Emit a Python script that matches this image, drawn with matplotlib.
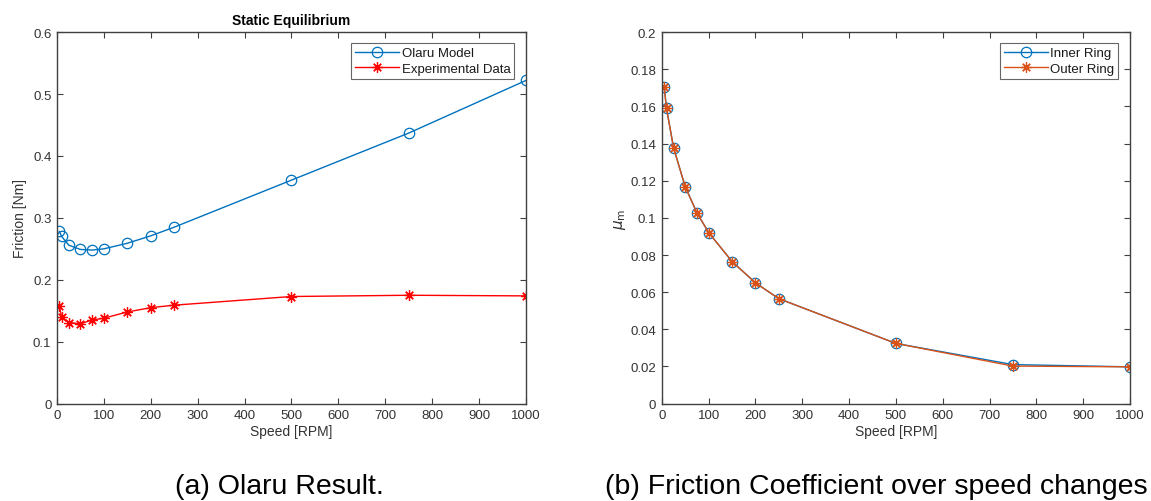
import matplotlib
matplotlib.use("Agg")
import matplotlib.pyplot as plt

plt.rcParams['font.family'] = ['Liberation Sans', 'DejaVu Sans']
plt.rcParams['mathtext.fontset'] = 'dejavusans'

speed = [5, 10, 25, 50, 75, 100, 150, 200, 250, 500, 750, 1000]
olaru_model = [0.278, 0.270, 0.256, 0.249, 0.248, 0.250, 0.259, 0.271, 0.285,
               0.361, 0.437, 0.522]
experimental = [0.157, 0.140, 0.131, 0.129, 0.135, 0.138, 0.148, 0.155, 0.159,
                0.173, 0.175, 0.174]

mu_inner = [0.1705, 0.159, 0.1378, 0.1167, 0.1027, 0.0921, 0.0765, 0.065,
            0.0565, 0.0324, 0.021, 0.0198]
mu_outer = [0.1705, 0.159, 0.1378, 0.1167, 0.1027, 0.0921, 0.0765, 0.065,
            0.0565, 0.0324, 0.0202, 0.0198]

x_ticks = [0, 100, 200, 300, 400, 500, 600, 700, 800, 900, 1000]
friction_ticks = [0, 0.1, 0.2, 0.3, 0.4, 0.5, 0.6]
friction_labels = ['0', '0.1', '0.2', '0.3', '0.4', '0.5', '0.6']
mu_ticks = [0, 0.02, 0.04, 0.06, 0.08, 0.1, 0.12, 0.14, 0.16, 0.18, 0.2]
mu_labels = ['0', '0.02', '0.04', '0.06', '0.08', '0.1', '0.12', '0.14',
             '0.16', '0.18', '0.2']

BLUE = '#0072BD'
ORANGE = '#D95319'
AX_COLOR = '#404040'
LABEL_COLOR = '#333333'
ASTERISK = (8, 2, 0)

fig = plt.figure(figsize=(11.51, 5.02), dpi=100)
ax1 = fig.add_axes([0.0495, 0.194, 0.4075, 0.740])
ax2 = fig.add_axes([0.575, 0.194, 0.4068, 0.740])


def style(ax):
    for s in ax.spines.values():
        s.set_color(AX_COLOR)
        s.set_linewidth(1.0)
    ax.tick_params(direction='in', top=True, right=True, length=4,
                   width=0.8, color=AX_COLOR, labelcolor=LABEL_COLOR,
                   labelsize=9.5, pad=4)
    ax.set_xlim(0, 1000)
    ax.set_xticks(x_ticks, [str(t) for t in x_ticks])


def legend(ax):
    leg = ax.legend(loc='upper right', fontsize=9.5, frameon=True,
                    fancybox=False, edgecolor=AX_COLOR, handlelength=3.3,
                    borderpad=0.3, labelspacing=0.25, handletextpad=0.2,
                    borderaxespad=0.0, bbox_to_anchor=(0.975, 0.97))
    leg.get_frame().set_linewidth(0.8)
    for t in leg.get_texts():
        t.set_color('#1a1a1a')


# Left panel: friction torque
ax1.plot(speed, olaru_model, '-o', color=BLUE, lw=1.0, ms=7.5,
         mfc='none', mew=0.9, label='Olaru Model')
ax1.plot(speed, experimental, '-', marker=ASTERISK, color='red', lw=1.0,
         ms=7.5, mew=0.9, label='Experimental Data')
style(ax1)
ax1.set_ylim(0, 0.6)
ax1.set_yticks(friction_ticks, friction_labels)
ax1.set_xlabel('Speed [RPM]', fontsize=10, color=LABEL_COLOR, labelpad=2)
ax1.set_ylabel('Friction [Nm]', fontsize=10, color=LABEL_COLOR, labelpad=4)
ax1.set_title('Static Equilibrium', fontsize=10, fontweight='bold', pad=6)
legend(ax1)

# Right panel: friction coefficient
ax2.plot(speed, mu_inner, '-o', color=BLUE, lw=1.0, ms=7.5,
         mfc='none', mew=0.9, label='Inner Ring')
ax2.plot(speed, mu_outer, '-', marker=ASTERISK, color=ORANGE, lw=1.0,
         ms=7.5, mew=0.9, label='Outer Ring')
style(ax2)
ax2.set_ylim(0, 0.2)
ax2.set_yticks(mu_ticks, mu_labels)
ax2.set_xlabel('Speed [RPM]', fontsize=10, color=LABEL_COLOR, labelpad=2)
ax2.set_ylabel(r'$\mu_\mathrm{m}$', fontsize=11, color=LABEL_COLOR, labelpad=2)
legend(ax2)

# Sub-figure captions
fig.text(0.152, 0.016, '(a) Olaru Result.', fontsize=20.5, ha='left',
         va='baseline', color='black')
fig.text(0.526, 0.016, '(b) Friction Coefficient over speed changes',
         fontsize=20.5, ha='left', va='baseline', color='black')

fig.savefig('out.png', dpi=100)
